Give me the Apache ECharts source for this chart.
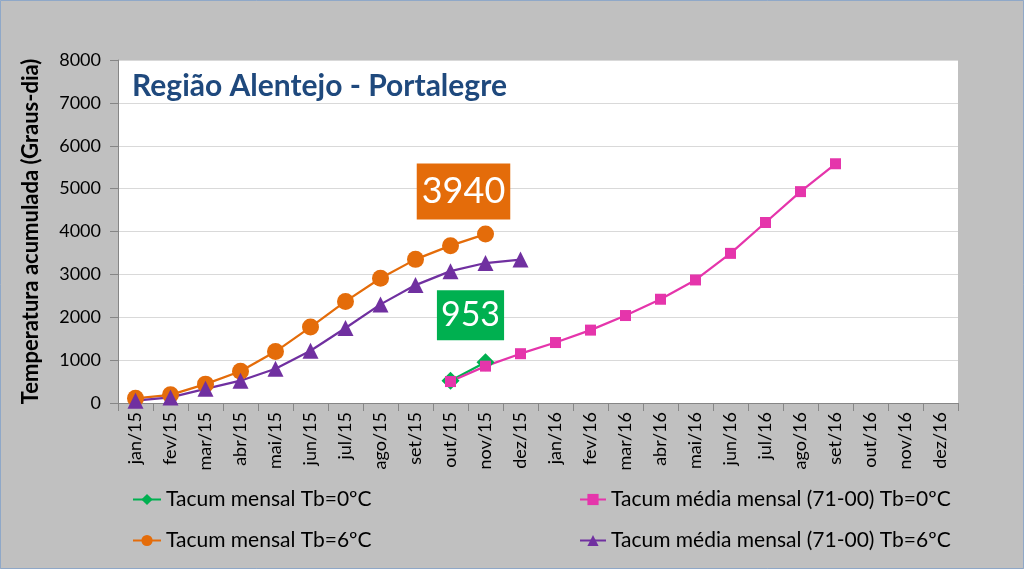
<!DOCTYPE html>
<html>
<head>
<meta charset="utf-8">
<title>Região Alentejo - Portalegre</title>
<script src="https://cdn.jsdelivr.net/npm/echarts@6/dist/echarts.min.js"></script>
<style>
    html, body { margin: 0; padding: 0; background: #c0c0c0; }
    #box { width: 1024px; height: 569px; }
</style>
</head>
<body>
<div id="box"></div>
<script>
// meses (eixo x)
var meses = ['jan/15', 'fev/15', 'mar/15', 'abr/15', 'mai/15', 'jun/15', 'jul/15', 'ago/15', 'set/15', 'out/15', 'nov/15', 'dez/15',
    'jan/16', 'fev/16', 'mar/16', 'abr/16', 'mai/16', 'jun/16', 'jul/16', 'ago/16', 'set/16', 'out/16', 'nov/16', 'dez/16'];
var yTicks = [0, 1000, 2000, 3000, 4000, 5000, 6000, 7000, 8000];

// Tacum mensal Tb=0ºC
var mensal0 = [null, null, null, null, null, null, null, null, null, 520, 953];
// Tacum mensal Tb=6ºC
var mensal6 = [110, 190, 440, 740, 1200, 1770, 2370, 2910, 3350, 3670, 3940];
// Tacum média mensal (71-00) Tb=0ºC
var media0 = [null, null, null, null, null, null, null, null, null, 500, 860, 1150,
    1410, 1700, 2040, 2420, 2870, 3490, 4210, 4930, 5580];
// Tacum média mensal (71-00) Tb=6ºC
var media6 = [55, 130, 330, 520, 800, 1220, 1750, 2300, 2750, 3075, 3265, 3345];

var FONT = 'Lato, "DejaVu Sans", sans-serif';

// valor final destacado numa caixa
function destaque(arr, cor, tam, pad, off) {
    return arr.map(function (v, i) {
        if (i !== arr.length - 1) return v;
        return {
            value: v,
            label: {
                show: true, position: 'top', formatter: '{c}',
                color: '#fff', fontFamily: FONT, fontSize: tam, lineHeight: tam + 4,
                backgroundColor: cor, padding: pad,
                offset: off
            }
        };
    });
}

var myChart = echarts.init(document.getElementById('box'));
var option = {
    backgroundColor: '#c0c0c0',
    animation: false,
    textStyle: { fontFamily: FONT },
    title: {
        text: 'Região Alentejo - Portalegre',
        left: 127, top: 66,
        textStyle: { color: '#1f497d', fontSize: 30, fontWeight: 'bold', fontFamily: FONT }
    },
    graphic: [{
        type: 'rect', shape: { x: 0.5, y: 0.5, width: 1023, height: 568 },
        style: { fill: 'none', stroke: '#8fa8c8', lineWidth: 1 }, silent: true
    }],
    legend: [{
        orient: 'vertical', left: 127, top: 484, itemGap: 20,
        itemWidth: 28, itemHeight: 14,
        data: ['Tacum mensal Tb=0ºC', 'Tacum mensal Tb=6ºC'],
        textStyle: { color: '#000', fontSize: 21, fontFamily: FONT }
    }, {
        orient: 'vertical', left: 574, top: 484, itemGap: 20,
        itemWidth: 26, itemHeight: 14,
        data: ['Tacum média mensal (71-00) Tb=0ºC', 'Tacum média mensal (71-00) Tb=6ºC'],
        textStyle: { color: '#000', fontSize: 21, fontFamily: FONT }
    }],
    grid: {
        left: 118, right: 66, top: 60, bottom: 166,
        show: true, backgroundColor: '#fff', borderWidth: 0
    },
    xAxis: {
        type: 'category',
        data: meses,
        boundaryGap: true,
        axisLine: { lineStyle: { color: '#868686' } },
        axisTick: { show: true, length: 8, lineStyle: { color: '#868686' } },
        axisLabel: { interval: 0, rotate: 90, color: '#000', fontSize: 18, margin: 9, fontFamily: FONT }
    },
    yAxis: {
        type: 'value',
        min: yTicks[0], max: yTicks[yTicks.length - 1], interval: 1000,
        name: 'Temperatura acumulada (Graus-dia)',
        nameLocation: 'middle', nameGap: 76, nameRotate: 90,
        nameTextStyle: { color: '#000', fontSize: 22, fontWeight: 'bold', fontFamily: FONT },
        axisLine: { show: true, lineStyle: { color: '#868686' } },
        axisTick: { show: true, length: 8, lineStyle: { color: '#868686' } },
        splitLine: { lineStyle: { color: '#d9d9d9' } },
        axisLabel: {
            color: '#000', fontSize: 18, margin: 17, fontFamily: FONT,
            formatter: function (v) { return String(v); }
        }
    },
    series: [
        {
            name: 'Tacum mensal Tb=6ºC', type: 'line',
            data: destaque(mensal6, '#e46c0a', 36, [8, 5, 8, 5], [-22, -1]),
            symbol: 'circle', symbolSize: 17,
            itemStyle: { color: '#e46c0a' }, lineStyle: { width: 2.25, color: '#e46c0a' }
        },
        {
            name: 'Tacum média mensal (71-00) Tb=6ºC', type: 'line',
            data: media6,
            symbol: 'triangle', symbolSize: 16,
            itemStyle: { color: '#7030a0' }, lineStyle: { width: 2.25, color: '#7030a0' }
        },
        {
            name: 'Tacum mensal Tb=0ºC', type: 'line',
            data: destaque(mensal0, '#00b050', 34, [6, 4, 6, 4], [-15, -8]),
            symbol: 'diamond', symbolSize: 18,
            itemStyle: { color: '#00b050' }, lineStyle: { width: 2.25, color: '#00b050' }
        },
        {
            name: 'Tacum média mensal (71-00) Tb=0ºC', type: 'line',
            data: media0,
            symbol: 'rect', symbolSize: 11,
            itemStyle: { color: '#e535ab' }, lineStyle: { width: 2.25, color: '#e535ab' }
        }
    ]
};
myChart.setOption(option);
</script>
</body>
</html>
